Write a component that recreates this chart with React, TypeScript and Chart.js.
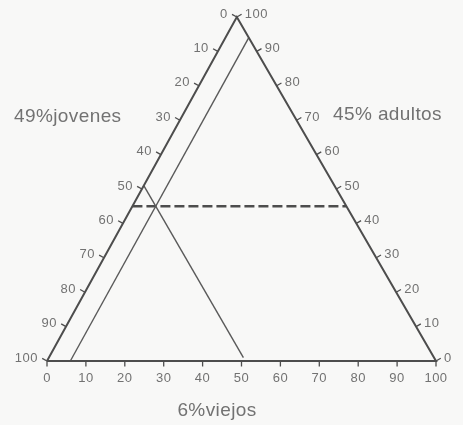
import React, { useEffect, useRef } from "react";
import { Chart, registerables } from "chart.js";

Chart.register(...registerables);

// ---- data ----
const TICK_VALUES = [0, 10, 20, 30, 40, 50, 60, 70, 80, 90, 100];
const LEFT_TICK_LABELS = ["0", "10", "20", "30", "40", "50", "60", "70", "80", "90", "100"]; // jovenes (0 at apex)
const RIGHT_TICK_LABELS = ["0", "10", "20", "30", "40", "50", "60", "70", "80", "90", "100"]; // adultos (0 at bottom-right)
const BOTTOM_TICK_LABELS = ["0", "10", "20", "30", "40", "50", "60", "70", "80", "90", "100"]; // viejos

const JOVENES = 49;
const ADULTOS = 45;
const VIEJOS = 6;

const TITLE_JOVENES = "49%jovenes";
const TITLE_ADULTOS = "45% adultos";
const TITLE_VIEJOS = "6%viejos";

// composition points: [jovenes, adultos, viejos]
const OUTLINE = [
  [100, 0, 0],
  [0, 100, 0],
  [0, 0, 100],
  [100, 0, 0],
];
const VIEJOS_LINE = [
  [100 - VIEJOS, 0, VIEJOS],
  [0, 100 - VIEJOS, VIEJOS],
];
const JOVENES_LINE = [
  [JOVENES, 100 - JOVENES, 0],
  [JOVENES, 1, 100 - JOVENES - 1],
];
const ADULTOS_LINE = [
  [100 - ADULTOS, ADULTOS, 0],
  [0, ADULTOS, 100 - ADULTOS],
];

// ---- style ----
const BG = "#f8f8f7";
const LINE = "#4d4d4d";
const TEXT = "#727272";
const APEX_SHIFT = 0.488; // apex horizontal position as fraction of base (scan is slightly skewed)
const TICK_FONT = '13px "Liberation Sans", Arial, sans-serif';
const TITLE_FONT = '19px "Liberation Sans", Arial, sans-serif';

function toXY(p: number[]) {
  const [, a, v] = p;
  return { x: v + a * APEX_SHIFT, y: a };
}

const ternaryPlugin = {
  id: "ternary",
  beforeDraw(chart: any) {
    const ctx = chart.ctx;
    ctx.save();
    ctx.fillStyle = BG;
    ctx.fillRect(0, 0, chart.width, chart.height);
    ctx.restore();
  },
  afterDatasetsDraw(chart: any) {
    const ctx = chart.ctx as any;
    const xs = chart.scales.x;
    const ys = chart.scales.y;
    const px = (p: number[]) => {
      const q = toXY(p);
      return { x: xs.getPixelForValue(q.x), y: ys.getPixelForValue(q.y) };
    };
    const A = px([100, 0, 0]);
    const B = px([0, 100, 0]);
    const C = px([0, 0, 100]);
    const normal = (P: any, Q: any) => {
      const dx = Q.x - P.x;
      const dy = Q.y - P.y;
      const l = Math.hypot(dx, dy);
      return { x: dy / l, y: -dx / l };
    };
    const nL = normal(A, B);
    const nR = normal(B, C);
    const nB = normal(C, A);
    const TL = 5.5;

    ctx.save();
    ctx.strokeStyle = LINE;
    ctx.lineWidth = 1.3;
    ctx.fillStyle = TEXT;
    ctx.font = TICK_FONT;
    ctx.textBaseline = "middle";
    ctx.letterSpacing = "0.5px";

    TICK_VALUES.forEach((t, i) => {
      // left side: jovenes
      const pl = px([t, 100 - t, 0]);
      ctx.beginPath();
      ctx.moveTo(pl.x, pl.y);
      ctx.lineTo(pl.x + nL.x * TL, pl.y + nL.y * TL);
      ctx.stroke();
      ctx.textAlign = "right";
      ctx.fillText(LEFT_TICK_LABELS[i], pl.x - 9, pl.y - 3);

      // right side: adultos
      const pr = px([0, t, 100 - t]);
      ctx.beginPath();
      ctx.moveTo(pr.x, pr.y);
      ctx.lineTo(pr.x + nR.x * TL, pr.y + nR.y * TL);
      ctx.stroke();
      ctx.textAlign = "left";
      ctx.fillText(RIGHT_TICK_LABELS[i], pr.x + 8, pr.y - 3);

      // bottom: viejos
      const pb = px([100 - t, 0, t]);
      ctx.beginPath();
      ctx.moveTo(pb.x, pb.y);
      ctx.lineTo(pb.x + nB.x * TL, pb.y + nB.y * TL);
      ctx.stroke();
      ctx.textAlign = "center";
      ctx.fillText(BOTTOM_TICK_LABELS[i], pb.x, pb.y + 17);
    });

    ctx.font = TITLE_FONT;
    ctx.letterSpacing = "0.4px";
    ctx.textAlign = "left";
    ctx.fillText(TITLE_JOVENES, 14, 117);
    ctx.fillText(TITLE_ADULTOS, 333, 115);
    ctx.textAlign = "center";
    ctx.fillText(TITLE_VIEJOS, 217, 411);
    ctx.restore();
  },
};

export default function App() {
  const ref = useRef<HTMLCanvasElement>(null);
  useEffect(() => {
    document.body.style.background = BG;
    if (!ref.current) return;
    const mk = (pts: number[][]) => pts.map(toXY);
    const chart = new Chart(ref.current, {
      type: "scatter",
      data: {
        datasets: [
          {
            data: mk(OUTLINE),
            showLine: true,
            borderColor: LINE,
            borderWidth: 2,
            pointRadius: 0,
            borderJoinStyle: "miter",
            clip: false,
          } as any,
          {
            data: mk(VIEJOS_LINE),
            showLine: true,
            borderColor: "#5a5a5a",
            borderWidth: 1.4,
            pointRadius: 0,
            clip: false,
          } as any,
          {
            data: mk(JOVENES_LINE),
            showLine: true,
            borderColor: "#5a5a5a",
            borderWidth: 1.4,
            pointRadius: 0,
            clip: false,
          } as any,
          {
            data: mk(ADULTOS_LINE),
            showLine: true,
            borderColor: LINE,
            borderWidth: 2.5,
            borderDash: [10, 4],
            pointRadius: 0,
            clip: false,
          } as any,
        ],
      },
      options: {
        responsive: false,
        animation: false,
        events: [],
        layout: { padding: { left: 47, right: 27, top: 17, bottom: 64 } },
        scales: {
          x: { type: "linear", min: 0, max: 100, display: false },
          y: { type: "linear", min: 0, max: 100, display: false },
        },
        plugins: { legend: { display: false }, tooltip: { enabled: false } },
      },
      plugins: [ternaryPlugin],
    });
    return () => chart.destroy();
  }, []);
  return (
    <div style={{ position: "fixed", left: 0, top: 0, width: 463, height: 425 }}>
      <canvas ref={ref} width={463} height={425} style={{ display: "block" }} />
    </div>
  );
}
